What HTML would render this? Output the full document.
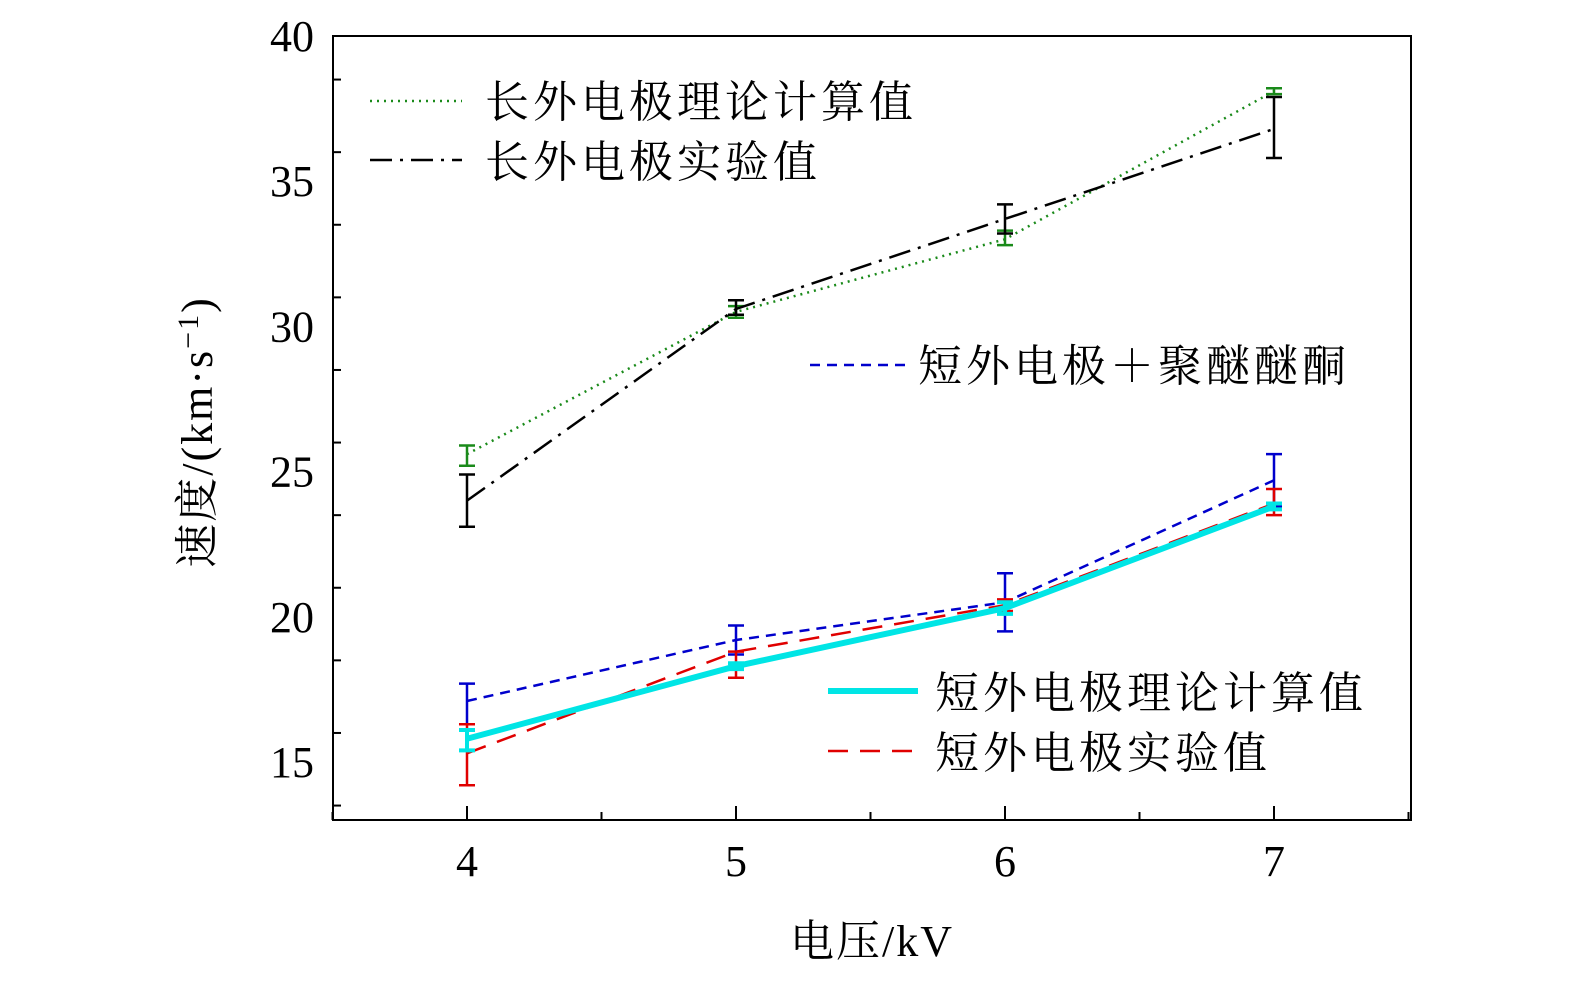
<!DOCTYPE html>
<html><head><meta charset="utf-8"><style>
html,body{margin:0;padding:0;background:#fff;}
svg{display:block;font-family:"Liberation Serif","Noto Serif CJK SC",serif;}
</style></head><body>
<svg id="chart" width="1575" height="984" viewBox="0 0 1575 984" xmlns="http://www.w3.org/2000/svg">
<rect x="333" y="36" width="1078" height="784" fill="none" stroke="#000" stroke-width="2"/>
<g id="axes"></g><g id="series"></g>
<text x="872" y="956" font-size="44" letter-spacing="2" text-anchor="middle">电压/kV</text>
<text transform="translate(212,432) rotate(-90)" font-size="44" letter-spacing="2" text-anchor="middle">速度/(km·s<tspan font-size="30" dy="-14">−1</tspan><tspan dy="14">)</tspan></text>
<g font-size="44" letter-spacing="4">
<line x1="370" y1="101" x2="462" y2="101" stroke="#1a8a1a" stroke-width="2.5" stroke-dasharray="2,5"/>
<text x="485" y="117">长外电极理论计算值</text>
<line x1="370" y1="160" x2="462" y2="160" stroke="#000" stroke-width="2.5" stroke-dasharray="22,8,3,8"/>
<text x="485" y="177">长外电极实验值</text>
<line x1="810" y1="365" x2="905" y2="365" stroke="#0000cc" stroke-width="2.5" stroke-dasharray="10,7"/>
<text x="918" y="381">短外电极＋聚醚醚酮</text>
</g>
<g font-size="44" letter-spacing="4">
<line x1="828" y1="691" x2="918" y2="691" stroke="#00e5e5" stroke-width="6"/>
<text x="935" y="708">短外电极理论计算值</text>
<line x1="828" y1="751" x2="918" y2="751" stroke="#e00000" stroke-width="2.5" stroke-dasharray="20,12"/>
<text x="935" y="768">短外电极实验值</text>
</g>
</svg>
<script>
const voltages=[4,5,6,7];
const longTheory=[25.6,30.5,33.0,38.1];
const longTheoryLo=[25.2,30.3,32.8,38.0];
const longTheoryHi=[25.9,30.7,33.3,38.2];
const longExp=[24.0,30.6,33.7,36.8];
const longExpLo=[23.1,30.4,33.2,35.8];
const longExpHi=[24.9,30.9,34.2,37.9];
const shortPeek=[17.1,19.2,20.5,24.7];
const shortPeekLo=[16.3,18.7,19.5,23.8];
const shortPeekHi=[17.7,19.7,21.5,25.6];
const shortExp=[15.3,18.8,20.4,23.9];
const shortExpLo=[14.2,17.9,20.2,23.5];
const shortExpHi=[16.3,18.8,20.6,24.4];
const shortTheory=[15.8,18.3,20.3,23.8];
const shortTheoryLo=[15.4,18.2,20.1,23.7];
const shortTheoryHi=[16.1,18.4,20.5,23.9];
const yTicks=[15,20,25,30,35,40];
const xTicks=[4,5,6,7];
const NS="http://www.w3.org/2000/svg";
const X=v=>467+(v-4)*269;
const Y=v=>762-(v-15)*29.04;
function mk(t,a,p){const e=document.createElementNS(NS,t);for(const k in a)e.setAttribute(k,a[k]);p.appendChild(e);return e;}
const ax=document.getElementById('axes');
for(let v=13.5;v<=40;v+=2.5){const major=v%5===0;
 const l=mk('line',{x1:333,x2:333+(major?14:8),y1:Y(v),y2:Y(v),stroke:'#000','stroke-width':2},ax);
 }
yTicks.forEach(v=>{const t=mk('text',{x:314,y:Y(v)+15,'font-size':44,'text-anchor':'end'},ax);t.textContent=v;
 });
for(let v=3.5;v<=7.5;v+=0.5){const major=v%1===0;
 const l=mk('line',{x1:X(v),x2:X(v),y1:820,y2:820-(major?14:8),stroke:'#000','stroke-width':2},ax);
 }
xTicks.forEach(v=>{const t=mk('text',{x:X(v),y:876,'font-size':44,'text-anchor':'middle'},ax);t.textContent=v;
 });
const sg=document.getElementById('series');
function series(name,vals,lo,hi,color,w,dash,ew,cap){
 const g=mk('g',{},sg);
 voltages.forEach((v,i)=>{
  const e=mk('path',{d:`M${X(v)-cap},${Y(lo[i])}H${X(v)+cap}M${X(v)},${Y(lo[i])}V${Y(hi[i])}M${X(v)-cap},${Y(hi[i])}H${X(v)+cap}`,stroke:color,'stroke-width':ew,fill:'none'},g);
  });
 const p=mk('polyline',{points:voltages.map((v,i)=>X(v)+','+Y(vals[i])).join(' '),fill:'none',stroke:color,'stroke-width':w,'stroke-dasharray':dash},g);
 }
series('long-theory',longTheory,longTheoryLo,longTheoryHi,'#1a8a1a',2.5,'2,5',2.5,8);
series('long-experiment',longExp,longExpLo,longExpHi,'#000',2.5,'22,8,3,8',2.5,8);
series('short-peek',shortPeek,shortPeekLo,shortPeekHi,'#0000cc',2.5,'10,7',2.5,8);
series('short-experiment',shortExp,shortExpLo,shortExpHi,'#e00000',2.5,'20,12',2.5,8);
series('short-theory',shortTheory,shortTheoryLo,shortTheoryHi,'#00e5e5',6,'none',4,8);
</script>
</body></html>
